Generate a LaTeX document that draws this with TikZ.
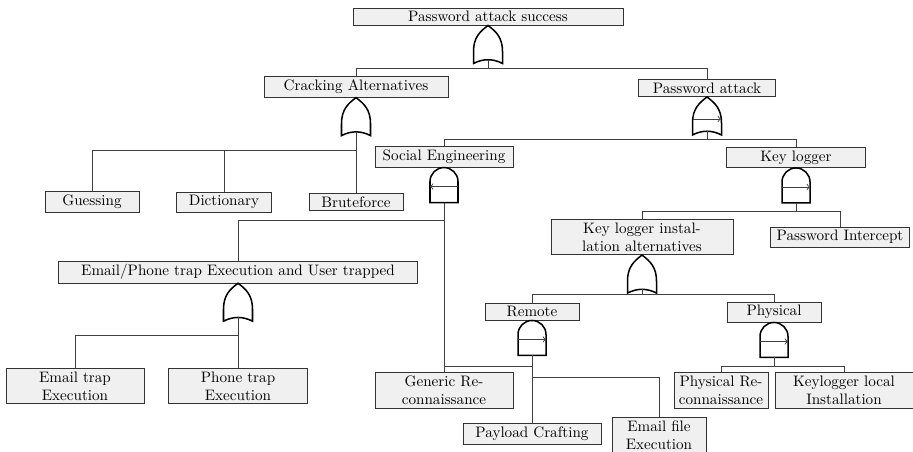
\documentclass[tikz,border=0pt]{standalone}
\newlength{\du}
\setlength{\du}{0.66pt}
\tikzset{
  evt/.style={draw=black!80, line width=0.4pt, fill=black!6, inner xsep=0pt, inner ysep=2.2pt, minimum width=#1\du, align=center},
  wire/.style={draw=black!75, line width=0.6pt},
  gateline/.style={draw=black, line width=1pt, fill=white},
  orgate/.pic={
    \path[gateline] (0,0) .. controls (8\du,-6\du) and (14.5\du,-12\du) .. (14.5\du,-26\du) -- (14.5\du,-38\du) .. controls (5\du,-33\du) and (-5\du,-33\du) .. (-14.5\du,-38\du) -- (-14.5\du,-26\du) .. controls (-14.5\du,-12\du) and (-8\du,-6\du) .. (0,0) -- cycle;
    \coordinate (-out) at (0,-34.25\du);
  },
  sorgate/.pic={
    \path[gateline] (0,0) .. controls (8\du,-6\du) and (14.5\du,-12\du) .. (14.5\du,-26\du) -- (14.5\du,-38\du) .. controls (5\du,-33\du) and (-5\du,-33\du) .. (-14.5\du,-38\du) -- (-14.5\du,-26\du) .. controls (-14.5\du,-12\du) and (-8\du,-6\du) .. (0,0) -- cycle;
    \draw[wire,->] (-14\du,-22\du) -- (14\du,-22\du);
    \coordinate (-out) at (0,-34.25\du);
  },
  sandgate/.pic={
    \path[gateline] (-14\du,-35\du) -- (-14\du,-14\du) arc (180:0:14\du) -- (14\du,-35\du) -- cycle;
    \draw[wire,->] (-14\du,-19\du) -- (14\du,-19\du);
    \coordinate (-out) at (0,-35\du);
  },
  sandgateleft/.pic={
    \path[gateline] (-14\du,-35\du) -- (-14\du,-14\du) arc (180:0:14\du) -- (14\du,-35\du) -- cycle;
    \draw[wire,<-] (-14\du,-19\du) -- (14\du,-19\du);
    \coordinate (-out) at (0,-35\du);
  },
}
\begin{document}
\begin{tikzpicture}
\pgftransformxscale{1.000000}
\pgftransformyscale{-1.000000}
\useasboundingbox (0,0) rectangle (913\du,451\du);
% events
\node[evt=270] (pas) at (488\du,16.5\du) {Password attack success};
\node[evt=184] (cra) at (356\du,87\du) {Cracking Alternatives};
\node[evt=137] (pa) at (707\du,88\du) {Password attack};
\node[evt=94] (gue) at (92\du,202\du) {Guessing};
\node[evt=95] (dic) at (224\du,202\du) {Dictionary};
\node[evt=94] (bru) at (356\du,202\du) {Bruteforce};
\node[evt=138] (se) at (444\du,157\du) {Social Engineering};
\node[evt=139] (kl) at (796\du,157.5\du) {Key logger};
\node[evt=359] (epu) at (238\du,272\du) {Email/Phone trap Execution and User trapped};
\node[evt=182] (kla) at (642\du,237\du) {Key logger instal-\\lation alternatives};
\node[evt=139] (pi) at (840\du,237\du) {Password Intercept};
\node[evt=138] (et) at (75\du,386\du) {Email trap\\Execution};
\node[evt=139] (pt) at (238\du,386\du) {Phone trap\\Execution};
\node[evt=94] (rem) at (532\du,311.5\du) {Remote};
\node[evt=94] (phy) at (774\du,312\du) {Physical};
\node[evt=138] (gr) at (444\du,390.5\du) {Generic Re-\\connaissance};
\node[evt=138] (pc) at (532\du,434\du) {Payload Crafting};
\node[evt=94] (efe) at (659\du,435\du) {Email file\\Execution};
\node[evt=94] (pr) at (721\du,390.5\du) {Physical Re-\\connaissance};
\node[evt=138] (kli) at (844\du,390.5\du) {Keylogger local\\Installation};
% gates
\pic (g0) at (pas.south) {orgate};
\pic (g1) at (cra.south) {orgate};
\pic (g2) at (pa.south) {sorgate};
\pic (g3) at (se.south) {sandgateleft};
\pic (g4) at (kl.south) {sandgate};
\pic (g5) at (epu.south) {orgate};
\pic (g6) at (kla.south) {orgate};
\pic (g7) at (rem.south) {sandgate};
\pic (g8) at (phy.south) {sandgate};
% links
\coordinate (b0) at (488\du,68\du);
\draw[wire] (g0-out) -- (b0) -| (cra.north);
\draw[wire] (b0) -| (pa.north);
\coordinate (b1) at (356\du,150\du);
\draw[wire] (g1-out) -- (bru.north);
\draw[wire] (b1) -| (gue.north);
\draw[wire] (b1) -| (dic.north);
\coordinate (b2) at (707\du,139\du);
\draw[wire] (g2-out) -- (b2) -| (se.north);
\draw[wire] (b2) -| (kl.north);
\coordinate (b3) at (444\du,220\du);
\draw[wire] (g3-out) -- (gr.north);
\draw[wire] (b3) -| (epu.north);
\coordinate (b4) at (796\du,211\du);
\draw[wire] (g4-out) -- (b4) -| (kla.north);
\draw[wire] (b4) -| (pi.north);
\coordinate (b5) at (238\du,335\du);
\draw[wire] (g5-out) -- (pt.north);
\draw[wire] (b5) -| (et.north);
\coordinate (b6) at (642\du,294\du);
\draw[wire] (g6-out) -- (b6) -| (rem.north);
\draw[wire] (b6) -| (phy.north);
\coordinate (b7) at (532\du,366\du);
\coordinate (b7e) at (532\du,377\du);
\draw[wire] (g7-out) -- (pc.north);
\draw[wire] (b7) -| (gr.north);
\draw[wire] (b7e) -| (efe.north);
\coordinate (b8) at (774\du,366\du);
\draw[wire] (g8-out) -- (b8) -| (pr.north);
\draw[wire] (b8) -| (kli.north);
\end{tikzpicture}
\end{document}
